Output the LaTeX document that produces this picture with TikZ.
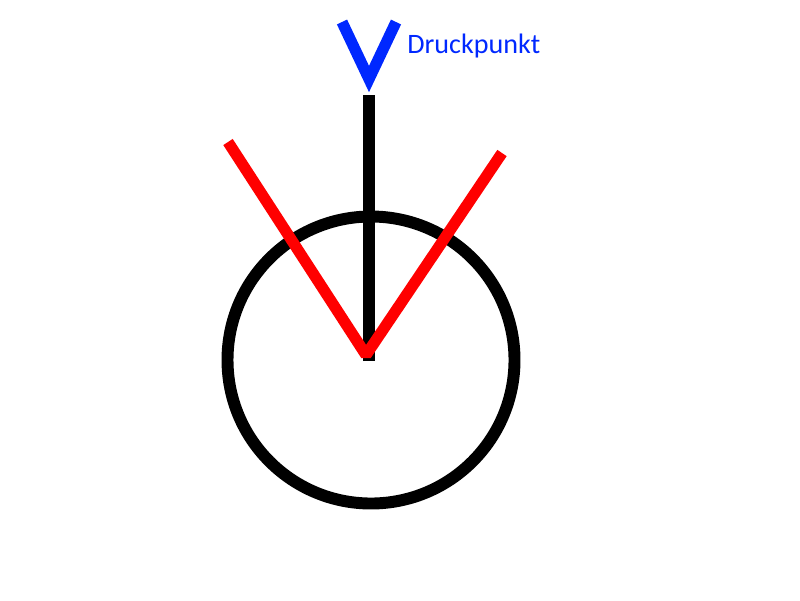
\documentclass[tikz,border=0pt]{standalone}
\usepackage{fontspec}
\setmainfont{Carlito}
\usepackage{tikz}

\definecolor{druckblau}{RGB}{0,40,255}

\begin{document}
\begin{tikzpicture}[x=0.02cm,y=-0.02cm,
    thickline/.style={line width=6.4pt}]

    \useasboundingbox (0,0) rectangle (800,600);

    % Centre and end points
    \coordinate (m)  at (371,360);
    \coordinate (mr) at (366,355);
    \coordinate (top) at (369,95);
    \coordinate (bot) at (369,361);
    \coordinate (rl) at (228,142);
    \coordinate (rr) at (502,153);

    % Circle
    \node[circle,draw,line width=6.8pt,minimum size=287*0.02cm,inner sep=0pt] (kreis) at (m) {};

    % Black bar
    \draw[thickline] (bot) -- (top);

    % Red legs
    \draw[thickline,red,line join=bevel] (rl) -- (mr) -- (rr);

    % Blue V
    \draw[line width=6.4pt,druckblau,line join=miter] (342,22) -- (369,79) -- (396,22);
    \node[anchor=base west,text=druckblau,font=\fontsize{16}{19}\selectfont,inner sep=0pt] (druck) at (407,53) {Druckpunkt};

  \end{tikzpicture}
\end{document}
